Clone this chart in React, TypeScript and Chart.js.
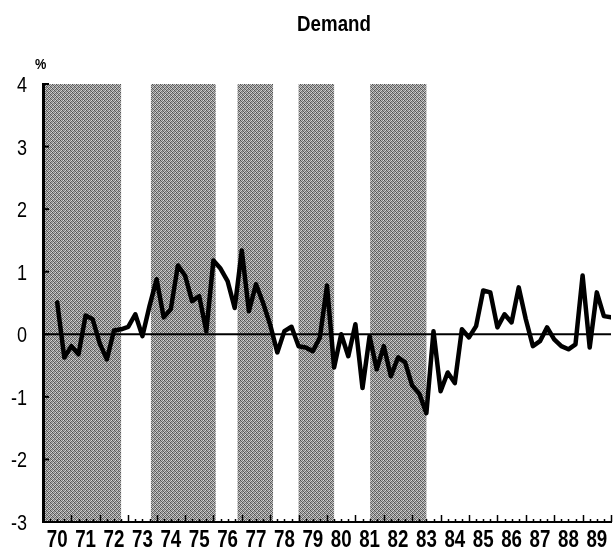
import React, { useEffect, useRef } from "react";
import { Chart, registerables } from "chart.js";

Chart.register(...registerables);

// Quarterly demand growth (%), 1970 Q2 .. 1989 Q4, plotted at quarter end
const firstQuarterEnd = 1970.5;
const demand = [
  0.51, -0.37,
  -0.19, -0.32, 0.30, 0.24,
  -0.15, -0.40, 0.06, 0.08,
  0.12, 0.32, -0.03, 0.45,
  0.88, 0.27, 0.40, 1.10,
  0.94, 0.53, 0.61, 0.05,
  1.18, 1.05, 0.85, 0.42,
  1.34, 0.37, 0.80, 0.50,
  0.15, -0.29, 0.05, 0.12,
  -0.19, -0.21, -0.27, -0.05,
  0.78, -0.53, 0.00, -0.35,
  0.16, -0.86, -0.03, -0.56,
  -0.19, -0.67, -0.37, -0.45,
  -0.82, -0.95, -1.26, 0.05,
  -0.91, -0.61, -0.78, 0.08,
  -0.05, 0.13, 0.70, 0.67,
  0.11, 0.32, 0.19, 0.75,
  0.24, -0.19, -0.11, 0.11,
  -0.08, -0.19, -0.24, -0.16,
  0.94, -0.21, 0.67, 0.29,
  0.27,
];

// Year tick labels (centered in each year)
const yearLabels = [
  "70", "71", "72", "73", "74", "75", "76", "77", "78", "79",
  "80", "81", "82", "83", "84", "85", "86", "87", "88", "89",
];
const firstYear = 1970;

// Shaded periods (start, end) in fractional years
const shadeStart = [1970.0, 1973.8, 1976.85, 1979.0, 1981.52];
const shadeEnd = [1972.75, 1976.08, 1978.1, 1980.25, 1983.5];

// Y axis
const yTickValues = [-3, -2, -1, 0, 1, 2, 3, 4];
const yMin = -3;
const yMax = 4;

const FONT = "'Liberation Sans', Arial, sans-serif";

function makePattern(ctx: CanvasRenderingContext2D) {
  const shades = [
    "#4e4e4e", "#bcbcbc", "#7e7e7e", "#d8d8d8",
    "#a8a8a8", "#5e5e5e", "#c6c6c6", "#6c6c6c",
    "#868686", "#d2d2d2", "#545454", "#b2b2b2",
    "#cacaca", "#747474", "#a2a2a2", "#5c5c5c",
  ];
  const c = document.createElement("canvas");
  c.width = 4;
  c.height = 4;
  const p = c.getContext("2d")!;
  shades.forEach((s, k) => {
    p.fillStyle = s;
    p.fillRect(k % 4, Math.floor(k / 4), 1, 1);
  });
  return ctx.createPattern(c, "repeat");
}

function narrowText(
  ctx: CanvasRenderingContext2D,
  text: string,
  x: number,
  y: number,
  sx: number,
  align: CanvasTextAlign
) {
  ctx.save();
  ctx.translate(x, y);
  ctx.scale(sx, 1);
  ctx.textAlign = align;
  ctx.fillText(text, 0, 0);
  ctx.restore();
}

const decorPlugin = {
  id: "decor",
  beforeDraw(chart: any) {
    const { ctx, scales } = chart;
    const xs = scales.x;
    const ys = scales.y;
    ctx.save();
    const pat = makePattern(ctx);
    ctx.fillStyle = pat || "#949494";
    const top = ys.getPixelForValue(yMax);
    const bottom = ys.getPixelForValue(yMin);
    for (let i = 0; i < shadeStart.length; i++) {
      const x0 = xs.getPixelForValue(shadeStart[i]);
      const x1 = xs.getPixelForValue(shadeEnd[i]);
      ctx.fillRect(x0, top, x1 - x0, bottom - top);
    }
    ctx.restore();
  },
  beforeDatasetsDraw(chart: any) {
    const { ctx, chartArea, scales } = chart;
    const xs = scales.x;
    const ys = scales.y;
    ctx.save();
    ctx.strokeStyle = "#000";
    // zero line
    const y0 = ys.getPixelForValue(0);
    ctx.lineWidth = 2;
    ctx.beginPath();
    ctx.moveTo(chartArea.left, y0);
    ctx.lineTo(chartArea.right, y0);
    ctx.stroke();
    // y ticks inside
    for (const v of yTickValues) {
      const py = ys.getPixelForValue(v);
      ctx.beginPath();
      ctx.moveTo(chartArea.left, py);
      ctx.lineTo(chartArea.left + 6, py);
      ctx.stroke();
    }
    // x ticks inside: quarters small, years tall
    const yb = chartArea.bottom;
    ctx.lineWidth = 1.5;
    for (let i = 0; i <= yearLabels.length * 4; i++) {
      const t = firstYear + i / 4;
      const px = Math.round(xs.getPixelForValue(t)) + 0.5;
      const len = i % 4 === 0 ? 7 : 3;
      ctx.beginPath();
      ctx.moveTo(px, yb);
      ctx.lineTo(px, yb - len);
      ctx.stroke();
    }
    ctx.restore();
  },
  afterDraw(chart: any) {
    const { ctx, scales } = chart;
    const xs = scales.x;
    const ys = scales.y;
    ctx.save();
    ctx.fillStyle = "#000";
    ctx.textBaseline = "alphabetic";
    // title
    ctx.font = `bold 22px ${FONT}`;
    narrowText(ctx, "Demand", 334, 31, 0.85, "center");
    // unit
    ctx.font = `bold 15px ${FONT}`;
    narrowText(ctx, "%", 35, 69, 0.85, "left");
    // y tick labels
    ctx.font = `22px ${FONT}`;
    for (const v of yTickValues) {
      const py = ys.getPixelForValue(v);
      narrowText(ctx, String(v), 27, py + 8, 0.82, "right");
    }
    // x tick labels
    ctx.font = `bold 24px ${FONT}`;
    yearLabels.forEach((lab, i) => {
      const px = xs.getPixelForValue(firstYear + i + 0.5);
      narrowText(ctx, lab, px, 547, 0.78, "center");
    });
    ctx.restore();
  },
};

export default function App() {
  const ref = useRef<HTMLCanvasElement | null>(null);

  useEffect(() => {
    if (!ref.current) return;
    const points = demand.map((v, i) => ({ x: firstQuarterEnd + i * 0.25, y: v }));
    const chart = new Chart(ref.current, {
      type: "line",
      data: {
        datasets: [
          {
            data: points,
            borderColor: "#000",
            borderWidth: 4.5,
            pointRadius: 0,
            tension: 0,
            borderJoinStyle: "round",
            borderCapStyle: "round",
            fill: false,
          },
        ],
      },
      options: {
        animation: false,
        responsive: false,
        maintainAspectRatio: false,
        layout: { padding: { top: 84, right: 4, left: 0, bottom: 0 } },
        plugins: {
          legend: { display: false },
          tooltip: { enabled: false },
          title: { display: false },
        },
        scales: {
          x: {
            type: "linear",
            min: firstYear,
            max: firstYear + yearLabels.length,
            afterFit: (s: any) => {
              s.height = 31;
            },
            ticks: { display: false },
            grid: { display: false, drawTicks: false },
            border: { display: true, color: "#000", width: 2 },
          },
          y: {
            type: "linear",
            min: yMin,
            max: yMax,
            afterFit: (s: any) => {
              s.width = 43;
            },
            ticks: { display: false, stepSize: 1 },
            grid: { display: false, drawTicks: false },
            border: { display: true, color: "#000", width: 3 },
          },
        },
      },
      plugins: [decorPlugin],
    });
    return () => chart.destroy();
  }, []);

  return (
    <div style={{ position: "absolute", left: 0, top: 0, width: 615, height: 553, background: "#fff" }}>
      <canvas ref={ref} width={615} height={553} style={{ display: "block", width: 615, height: 553 }} />
    </div>
  );
}
